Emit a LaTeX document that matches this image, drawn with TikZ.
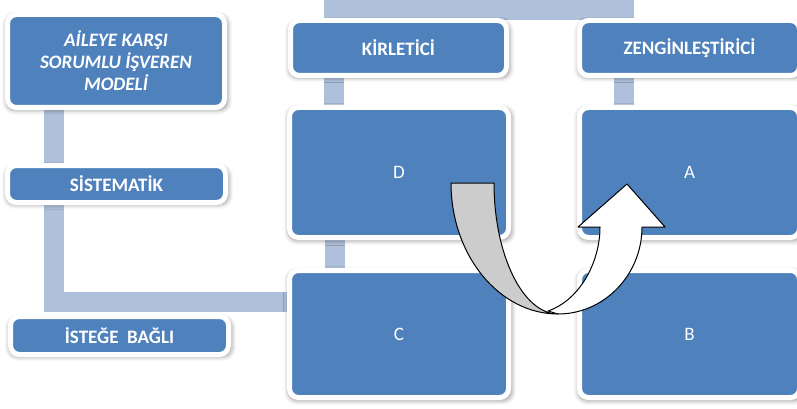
\documentclass[tikz,border=0pt]{standalone}
\usepackage{fontspec}
\setmainfont{Carlito}
\usetikzlibrary{shadows.blur,backgrounds}
\definecolor{boxblue}{HTML}{4F81BD}
\definecolor{linkblue}{HTML}{AFC0DA}
\definecolor{arrowgrey}{HTML}{CCCCCC}
\begin{document}
\begin{tikzpicture}[x=1pt,y=-1pt,
  box/.style={rectangle, rounded corners=9pt, fill=boxblue, draw=white, line width=5pt,
    text=white, font=\fontsize{19}{22}\selectfont\bfseries, align=center, inner sep=0pt,
    blur shadow={shadow xshift=1pt, shadow yshift=-2pt, shadow blur radius=4pt,
      shadow scale=1.025, shadow opacity=35}},
  letterbox/.style={box, font=\fontsize{19}{22}\selectfont},
  link/.style={draw=linkblue, line width=20pt},
  arrowpart/.style={draw=black, line width=1pt, line join=round}]
\useasboundingbox (0,0) rectangle (797,409);

% boxes
\node[box, minimum width=217pt, minimum height=93pt, font=\fontsize{19}{22}\selectfont\bfseries\itshape] (aile) at (116,61) {AİLEYE KARŞI\\SORUMLU İŞVEREN\\MODELİ};
\node[box, minimum width=218pt, minimum height=37pt] (sis) at (116.5,184) {SİSTEMATİK};
\node[box, minimum width=218pt, minimum height=38pt] (ist) at (119.5,335.5) {İSTEĞE\ \ BAĞLI};
\node[box, minimum width=216pt, minimum height=55pt] (kir) at (398.5,48) {KİRLETİCİ};
\node[box, minimum width=220pt, minimum height=55pt] (zen) at (689.5,48) {ZENGİNLEŞTİRİCİ};
\node[letterbox, minimum width=219pt, minimum height=130pt] (D) at (399,172.5) {D};
\node[letterbox, minimum width=220pt, minimum height=130pt] (A) at (689.5,172.5) {A};
\node[letterbox, minimum width=219pt, minimum height=127pt] (C) at (399,334) {C};
\node[letterbox, minimum width=220pt, minimum height=127pt] (B) at (689.5,334) {B};

% connectors
\begin{scope}[on background layer]
\draw[link] ([xshift=-62pt]aile.south) |- ([yshift=32pt]C.west);
\draw[link] ([xshift=-64.5pt]kir.north) -- ++(0,-7.5) -| ([xshift=-65.5pt]zen.north);
\draw[link] ([xshift=-64.5pt]kir.south) -- ([xshift=-64.5pt]kir.south |- D.north);
\draw[link] ([xshift=-65.5pt]zen.south) -- ([xshift=-65.5pt]zen.south |- A.north);
\draw[link] ([xshift=-64pt]D.south) -- ([xshift=-64pt]D.south |- C.north);
\end{scope}

% U-turn arrow
\filldraw[arrowpart, fill=white] (558,314) .. controls (604,314) and (642,275) .. (642,227)
  -- (665,227) -- (627,184) -- (578,227) -- (600,227)
  .. controls (600,262) and (580,300) .. (548,311) -- cycle;
\filldraw[arrowpart, fill=arrowgrey] (451,183) -- (494,183)
  .. controls (494,255) and (523,314) .. (558,314)
  .. controls (499,314) and (451,255) .. (451,183) -- cycle;
\end{tikzpicture}
\end{document}
